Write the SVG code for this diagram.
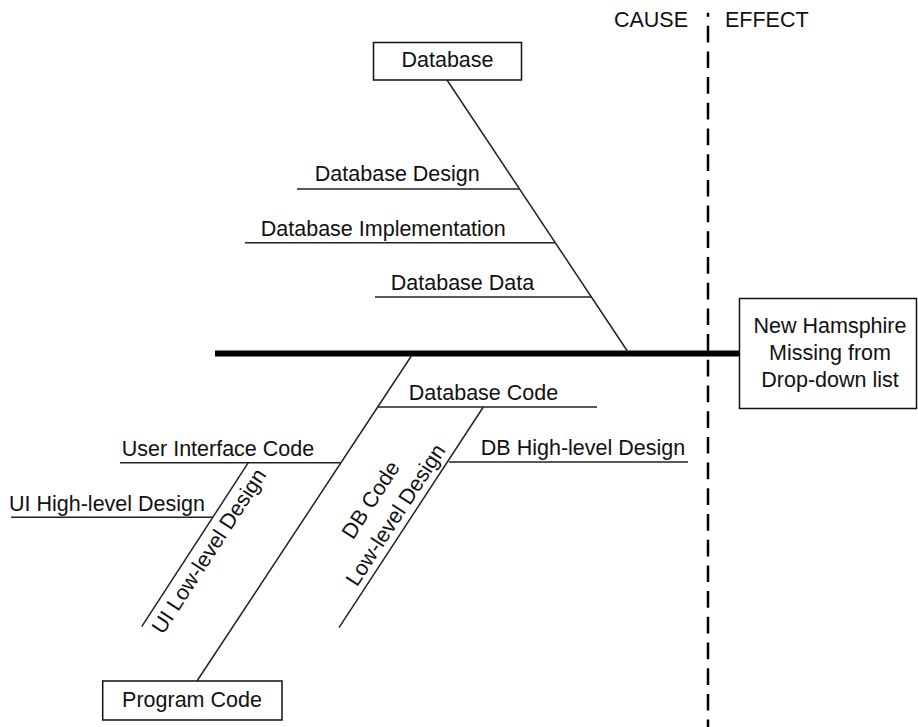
<svg xmlns="http://www.w3.org/2000/svg" width="918" height="727" viewBox="0 0 918 727">
<style>
text{font-family:"Liberation Sans",Arial,sans-serif;font-size:21.5px;fill:#111}
.m{text-anchor:middle}
.box{fill:#fff;stroke:#111;stroke-width:1.5}
.ln{stroke:#222;stroke-width:1.5;fill:none}
.spine{stroke:#000;stroke-width:6}
.dash{stroke:#000;stroke-width:2.5;stroke-dasharray:16.7 9;stroke-dashoffset:12.7}
</style>
<rect width="918" height="727" fill="#fff"/>
<g id="connectors">
<line class="spine" x1="215" y1="353.5" x2="739" y2="353.5"/>
<line class="dash" x1="708" y1="12.7" x2="708" y2="727"/>
<line class="ln" x1="447" y1="80" x2="628" y2="352"/>
<line class="ln" x1="297" y1="189" x2="519" y2="189"/>
<line class="ln" x1="245" y1="242.7" x2="555" y2="242.7"/>
<line class="ln" x1="375" y1="297" x2="592" y2="297"/>
<line class="ln" x1="412" y1="355" x2="197" y2="681"/>
<line class="ln" x1="378" y1="407" x2="597" y2="407"/>
<line class="ln" x1="449" y1="462" x2="688" y2="462"/>
<line class="ln" x1="120" y1="462.7" x2="341" y2="462.7"/>
<line class="ln" x1="11" y1="517.3" x2="213" y2="517.3"/>
<line class="ln" x1="248.3" y1="462.7" x2="141.7" y2="626.7"/>
<line class="ln" x1="483.3" y1="407" x2="339" y2="627.7"/>
</g>
<g id="cause-label"><text x="688" y="26.7" text-anchor="end">CAUSE</text></g>
<g id="effect-label"><text x="725" y="26.7">EFFECT</text></g>
<g id="database">
<rect class="box" x="373.5" y="42.5" width="148" height="37.5"/>
<text class="m" x="447.5" y="66.5">Database</text>
</g>
<g id="effect">
<rect class="box" x="739.5" y="298.5" width="177" height="110"/>
<text class="m" x="830" y="333">New Hamsphire</text>
<text class="m" x="830" y="360">Missing from</text>
<text class="m" x="830" y="387">Drop-down list</text>
</g>
<g id="program-code">
<rect class="box" x="102.7" y="681" width="179.3" height="39"/>
<text class="m" x="192" y="707">Program Code</text>
</g>
<g id="database-design"><text class="m" x="397.3" y="181">Database Design</text></g>
<g id="database-implementation"><text class="m" x="383.3" y="235.5">Database Implementation</text></g>
<g id="database-data"><text class="m" x="462.5" y="290">Database Data</text></g>
<g id="database-code"><text class="m" x="483.5" y="400">Database Code</text></g>
<g id="db-high-level-design"><text class="m" x="583" y="455">DB High-level Design</text></g>
<g id="user-interface-code"><text class="m" x="218" y="455.5">User Interface Code</text></g>
<g id="ui-high-level-design"><text class="m" x="107" y="511">UI High-level Design</text></g>
<g id="ui-low-level-design"><text class="m" transform="translate(215 555) rotate(-57)">UI Low-level Design</text></g>
<g id="db-code-low-level-design">
<text class="m" transform="translate(376.7 503.8) rotate(-57)">DB Code</text>
<text class="m" transform="translate(401.6 518.8) rotate(-57)">Low-level Design</text>
</g>
</svg>
